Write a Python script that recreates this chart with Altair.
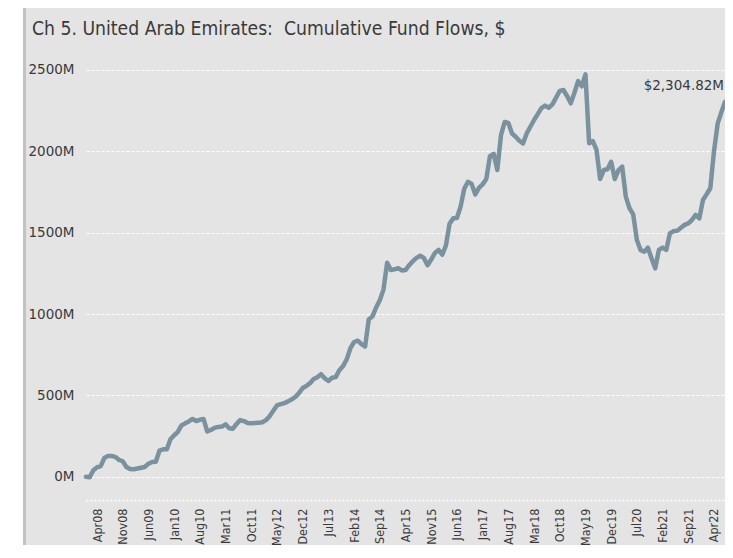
import altair as alt
import pandas as pd

# Monthly categories Jan08 .. Jul22
months = list(pd.date_range("2008-01-01", periods=175, freq="MS").strftime("%b%y"))

tick_labels = ["Apr08", "Nov08", "Jun09", "Jan10", "Aug10", "Mar11", "Oct11", "May12",
               "Dec12", "Jul13", "Feb14", "Sep14", "Apr15", "Nov15", "Jun16", "Jan17",
               "Aug17", "Mar18", "Oct18", "May19", "Dec19", "Jul20", "Feb21", "Sep21", "Apr22"]

y_ticks = [0, 500, 1000, 1500, 2000, 2500]

# Cumulative fund flows, $M
flows = [
    0, -3, 40, 58, 65, 115, 128, 127, 122, 103, 95, 60,
    47, 46, 50, 55, 60, 80, 90, 92, 160, 168, 168, 230,
    255, 275, 315, 328, 340, 355, 342, 350, 355, 278, 287, 300,
    306, 308, 322, 298, 295, 325, 348, 342, 330, 328, 330, 331,
    335, 348, 372, 405, 438, 446, 452, 463, 475, 490, 515, 545,
    558, 575, 600, 612, 630, 605, 588, 608, 612, 655, 680, 722,
    790, 828, 836, 815, 800, 968, 985, 1040, 1085, 1150, 1315, 1270,
    1275, 1282, 1268, 1270, 1300, 1325, 1345, 1358, 1345, 1300, 1335, 1375,
    1394, 1365, 1420, 1555, 1588, 1590, 1660, 1770, 1813, 1800, 1735, 1775,
    1797, 1830, 1970, 1985, 1885, 2100, 2180, 2175, 2110, 2090, 2065, 2049,
    2110, 2151, 2193, 2228, 2266, 2281, 2268, 2289, 2330, 2372, 2377, 2340,
    2295, 2360, 2432, 2400, 2473, 2050, 2063, 2010, 1830, 1885, 1890, 1936,
    1830, 1885, 1906, 1720, 1650, 1613, 1455, 1394, 1383, 1408, 1342, 1281,
    1394, 1408, 1394, 1496, 1510, 1512, 1530, 1548, 1557, 1578, 1609, 1588,
    1701, 1736, 1773, 2000, 2170, 2240, 2304.82,
]

title_text = "Ch 5. United Arab Emirates:\u00a0 Cumulative Fund Flows, $"
last_label = "$2,304.82M"

df = pd.DataFrame({"month": months, "value": flows})
last_df = df.tail(1).assign(label=last_label)

W, H = 647, 445
PAD_L, PAD_T, PAD_B = 70, 47, 45
LINE_COLOR = "#7a929e"
TEXT_COLOR = "#3a3a3a"
FONT = "DejaVu Sans"
FONT_C = "DejaVu Sans Condensed"

x_scale = alt.Scale(domain=months, range=[8.0, 647.0], padding=0)
y_scale = alt.Scale(domain=[-143.2, 2592.2], nice=False, zero=False)

x_enc = alt.X("month:O", scale=x_scale,
              axis=alt.Axis(values=tick_labels, labelAngle=-90, title=None,
                            ticks=False, tickSize=0, labelPadding=8,
                            labelFont=FONT_C, labelFontSize=12.5, labelColor=TEXT_COLOR,
                            domainColor="white", domainDash=[2, 2], domainWidth=1.5,
                            grid=False))
y_enc = alt.Y("value:Q", scale=y_scale,
              axis=alt.Axis(values=y_ticks, labelExpr="datum.value + 'M'", title=None,
                            ticks=False, tickSize=0, domain=False, labelPadding=4,
                            labelFont=FONT, labelFontSize=13.5, labelColor=TEXT_COLOR,
                            grid=True, gridColor="white", gridDash=[3, 2], gridWidth=1))

deco = pd.DataFrame({"k": [0]})
strip = alt.Chart(deco).mark_rect(color="white").encode(
    x=alt.value(-PAD_L), x2=alt.value(-55), y=alt.value(-PAD_T), y2=alt.value(H + PAD_B))
border = alt.Chart(deco).mark_rect(color="#c2c2c2").encode(
    x=alt.value(-55), x2=alt.value(-52), y=alt.value(-PAD_T), y2=alt.value(H + PAD_B))

title = alt.Chart(deco).mark_text(
    text=title_text, align="left", baseline="alphabetic",
    font=FONT_C, fontSize=19.2, color=TEXT_COLOR).encode(
    x=alt.value(-46), y=alt.value(-20))

line = alt.Chart(df).mark_line(color=LINE_COLOR, strokeWidth=4.5,
                               strokeJoin="round", strokeCap="round").encode(x=x_enc, y=y_enc)

label = alt.Chart(last_df).mark_text(align="right", baseline="alphabetic", dx=-1, dy=-12,
                                     font=FONT, fontSize=13.5, color=TEXT_COLOR).encode(
    x=alt.X("month:O", scale=x_scale),
    y=alt.Y("value:Q", scale=y_scale),
    text="label:N")

chart = alt.layer(strip, border, title, line, label).properties(
    width=W, height=H,
    background="#e4e4e4",
    padding={"left": PAD_L, "top": PAD_T, "right": 0, "bottom": PAD_B},
    autosize=alt.AutoSizeParams(type="none"),
).configure_view(stroke=None)

chart.save("out.html", embed_options={"renderer": "svg", "actions": False})
